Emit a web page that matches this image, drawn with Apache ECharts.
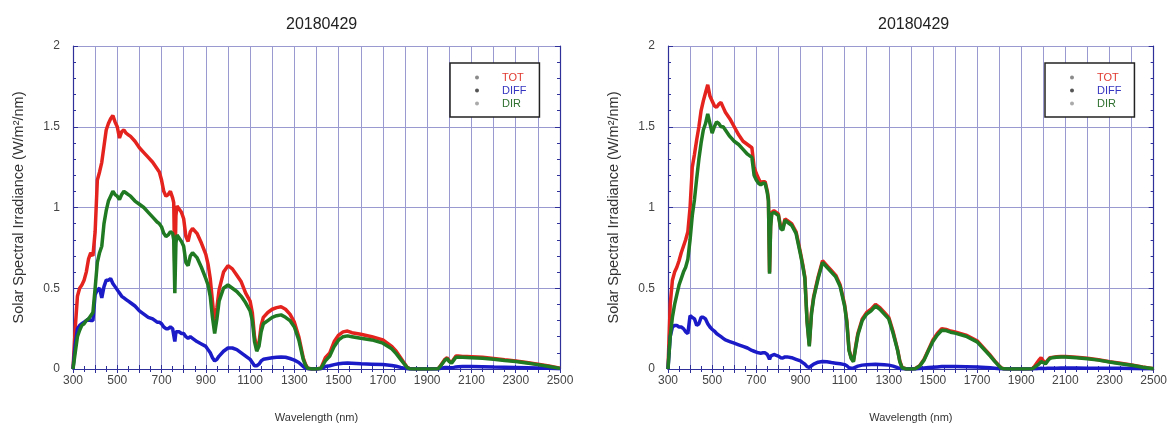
<!DOCTYPE html>
<html>
<head>
<meta charset="utf-8">
<script src="https://cdn.jsdelivr.net/npm/echarts@6/dist/echarts.min.js"></script>
<style>
html,body{margin:0;padding:0;background:#fff;}
#c{width:1170px;height:428px;}
</style>
</head>
<body>
<div id="c"></div>
<script>
// ---- data ----
const titleText = '20180429';
const xTitle = 'Wavelength (nm)';
const yTitle = 'Solar Spectral Irradiance (W/m\u00B2/nm)';
const seriesNames = ['TOT', 'DIFF', 'DIR'];
const yTicks = [0, 0.5, 1, 1.5, 2];

const wavelength = [
  300,310,320,330,340,350,360,370,380,390,
  400,410,420,430,440,450,460,470,480,490,
  500,510,520,530,540,550,560,
  580,600,620,640,660,680,690,700,710,720,730,740,750,755,760,765,770,780,790,800,
  810,820,830,840,860,880,900,910,920,930,940,950,960,980,
  1000,1020,1040,1060,1080,1100,1110,1120,1130,1140,1150,1160,1180,
  1200,1220,1240,1260,1280,1300,1320,1340,1350,1360,1380,
  1400,1420,1440,1460,1480,1500,1520,1540,1560,1580,1600,
  1650,1700,1740,1760,1780,1800,1810,1820,1850,1900,1950,
  1960,1970,1980,1990,2000,2010,2020,2030,2040,2060,2080,
  2100,2150,2200,2250,2300,2350,2400,2450,2500
];

// left panel
const totLeft = [
  0,0.25,0.45,0.5,0.52,0.55,0.6,0.68,0.72,0.7,
  0.85,1.17,1.22,1.28,1.38,1.48,1.52,1.55,1.57,1.53,
  1.5,1.43,1.47,1.48,1.46,1.45,1.44,
  1.41,1.37,1.34,1.31,1.28,1.24,1.22,1.17,1.1,1.07,1.08,1.1,1.06,1.03,0.62,0.95,1.01,0.99,0.97,0.93,
  0.82,0.79,0.85,0.87,0.84,0.78,0.71,0.65,0.56,0.42,0.28,0.38,0.49,0.6,
  0.64,0.62,0.58,0.54,0.47,0.42,0.35,0.2,0.13,0.16,0.27,0.32,0.35,
  0.37,0.38,0.385,0.37,0.34,0.29,0.2,0.07,0.03,0.005,0,
  0,0.005,0.07,0.1,0.17,0.21,0.23,0.235,0.225,0.22,0.215,
  0.2,0.18,0.14,0.11,0.07,0.03,0.01,0.003,0,0,0.003,
  0.02,0.04,0.06,0.07,0.05,0.04,0.06,0.08,0.08,0.078,0.077,
  0.076,0.073,0.065,0.057,0.05,0.04,0.03,0.018,0.005
];
const dirLeft = [
  0,0.1,0.2,0.24,0.27,0.28,0.3,0.31,0.33,0.35,
  0.5,0.66,0.72,0.76,0.9,0.98,1.04,1.07,1.1,1.08,
  1.07,1.05,1.08,1.1,1.09,1.08,1.07,
  1.04,1.02,1.0,0.97,0.94,0.91,0.9,0.88,0.84,0.82,0.83,0.85,0.84,0.8,0.47,0.78,0.83,0.81,0.79,0.76,
  0.66,0.64,0.7,0.72,0.69,0.63,0.56,0.52,0.45,0.32,0.22,0.31,0.42,0.5,
  0.52,0.5,0.48,0.45,0.41,0.36,0.3,0.17,0.11,0.14,0.23,0.28,0.3,
  0.32,0.33,0.335,0.32,0.3,0.26,0.18,0.06,0.025,0.004,0,
  0,0.004,0.05,0.08,0.14,0.18,0.2,0.205,0.2,0.195,0.19,
  0.18,0.16,0.125,0.095,0.06,0.025,0.008,0.002,0,0,0.002,
  0.018,0.036,0.054,0.064,0.046,0.036,0.055,0.073,0.073,0.072,0.071,
  0.07,0.067,0.06,0.052,0.046,0.037,0.027,0.016,0.004
];
const difLeft = [
  0,0.15,0.25,0.27,0.28,0.29,0.3,0.31,0.3,0.3,
  0.46,0.49,0.5,0.44,0.51,0.55,0.55,0.56,0.53,0.51,
  0.49,0.47,0.45,0.44,0.43,0.42,0.41,
  0.39,0.36,0.34,0.32,0.31,0.29,0.29,0.28,0.26,0.25,0.25,0.26,0.25,0.24,0.17,0.23,0.24,0.23,0.22,0.22,
  0.2,0.19,0.2,0.19,0.17,0.155,0.14,0.12,0.1,0.07,0.05,0.06,0.08,0.11,
  0.13,0.13,0.12,0.1,0.08,0.06,0.04,0.02,0.02,0.03,0.05,0.06,0.065,
  0.07,0.073,0.074,0.073,0.065,0.055,0.04,0.015,0.006,0.002,0,
  0,0.002,0.015,0.02,0.027,0.032,0.036,0.037,0.036,0.034,0.032,
  0.03,0.028,0.022,0.017,0.01,0.004,0.002,0,0,0,0,
  0.004,0.007,0.009,0.01,0.008,0.008,0.01,0.013,0.014,0.015,0.015,
  0.015,0.014,0.012,0.011,0.01,0.008,0.006,0.004,0.001
];

// right panel
const totRight = [
  0,0.4,0.55,0.6,0.63,0.67,0.72,0.76,0.8,0.85,
  1.0,1.25,1.33,1.42,1.5,1.6,1.66,1.71,1.76,1.69,
  1.66,1.63,1.62,1.64,1.65,1.62,1.59,
  1.55,1.5,1.45,1.41,1.39,1.37,1.25,1.21,1.18,1.15,1.16,1.16,1.1,1.05,0.6,0.9,0.97,0.98,0.97,0.96,
  0.88,0.87,0.93,0.92,0.9,0.85,0.72,0.65,0.57,0.3,0.15,0.35,0.45,0.57,
  0.67,0.64,0.61,0.58,0.52,0.4,0.3,0.12,0.07,0.05,0.14,0.22,0.31,
  0.35,0.37,0.4,0.38,0.35,0.32,0.23,0.12,0.05,0.01,0,
  0,0.003,0.02,0.06,0.12,0.18,0.22,0.25,0.245,0.235,0.23,
  0.21,0.175,0.115,0.085,0.05,0.02,0.006,0.002,0,0,0.002,
  0.015,0.035,0.055,0.07,0.05,0.035,0.055,0.07,0.072,0.076,0.078,
  0.078,0.073,0.066,0.057,0.045,0.035,0.025,0.012,0.002
];
const dirRight = [
  0,0.2,0.32,0.4,0.46,0.52,0.56,0.6,0.63,0.68,
  0.8,0.95,1.05,1.18,1.3,1.4,1.48,1.52,1.58,1.52,
  1.46,1.5,1.53,1.52,1.5,1.5,1.48,
  1.44,1.41,1.39,1.36,1.33,1.31,1.2,1.17,1.15,1.14,1.15,1.15,1.09,1.04,0.59,0.88,0.96,0.97,0.96,0.95,
  0.87,0.86,0.92,0.91,0.89,0.84,0.71,0.64,0.56,0.29,0.14,0.34,0.44,0.56,
  0.66,0.63,0.6,0.57,0.51,0.39,0.29,0.115,0.065,0.045,0.13,0.21,0.3,
  0.34,0.36,0.39,0.37,0.34,0.31,0.22,0.115,0.045,0.008,0,
  0,0.002,0.018,0.055,0.115,0.17,0.21,0.24,0.238,0.228,0.222,
  0.203,0.168,0.11,0.08,0.047,0.018,0.005,0.001,0,0,0.001,
  0.01,0.02,0.03,0.045,0.04,0.032,0.05,0.066,0.069,0.073,0.075,
  0.075,0.07,0.064,0.055,0.043,0.033,0.023,0.011,0.002
];
const difRight = [
  0,0.2,0.26,0.27,0.27,0.26,0.26,0.25,0.23,0.22,
  0.33,0.32,0.31,0.27,0.28,0.32,0.32,0.31,0.28,0.26,
  0.245,0.235,0.22,0.21,0.2,0.19,0.18,
  0.17,0.16,0.15,0.14,0.13,0.115,0.11,0.105,0.1,0.098,0.1,0.1,0.09,0.085,0.06,0.08,0.09,0.09,0.085,0.08,
  0.07,0.068,0.075,0.075,0.07,0.06,0.05,0.04,0.03,0.015,0.01,0.02,0.03,0.042,
  0.047,0.045,0.04,0.036,0.032,0.027,0.02,0.008,0.005,0.006,0.012,0.018,0.024,
  0.027,0.028,0.029,0.028,0.027,0.024,0.018,0.008,0.004,0.001,0,
  0,0,0.003,0.006,0.009,0.011,0.013,0.015,0.015,0.015,0.015,
  0.014,0.012,0.009,0.007,0.005,0.002,0.001,0,0,0,0,
  0.001,0.002,0.003,0.004,0.003,0.003,0.004,0.005,0.005,0.005,0.006,
  0.006,0.006,0.005,0.005,0.004,0.004,0.003,0.002,0.001
];

// ---- styles ----
const FONT = 'Liberation Sans, Arial, sans-serif';
const COLORS = { TOT: '#e4231e', DIFF: '#1b1bc8', DIR: '#1f7a22' };
const TEXTCOL = { TOT: '#e03a30', DIFF: '#3434c0', DIR: '#2f7030' };
const DOTCOL = { TOT: '#8a8a8a', DIFF: '#555555', DIR: '#aaaaaa' };
const frameColor = '#30309a';
const gridColor = '#9a9ad0';

const panels = [
  { left: 73, width: 487, titleLeft: 281, legendLeft: 450, tot: totLeft, dif: difLeft, dir: dirLeft },
  { left: 668, width: 491, titleLeft: 873, legendLeft: 1045, tot: totRight, dif: difRight, dir: dirRight }
];

const pairs = arr => wavelength.map((w, i) => [w, arr[i]]);

const option = {
  animation: false,
  backgroundColor: '#fff',
  textStyle: { fontFamily: FONT },
  title: [], legend: [], grid: [], xAxis: [], yAxis: [], series: []
};

panels.forEach((p, k) => {
  option.grid.push({ left: p.left, top: 46, width: p.width, height: 326 });
  option.title.push({
    text: titleText, left: p.titleLeft, top: 12,
    textStyle: { fontFamily: FONT, fontSize: 16, fontWeight: 'normal', color: '#222' }
  });
  option.legend.push({
    orient: 'vertical', left: p.legendLeft, top: 63,
    padding: [8, 13, 7, 25], itemGap: 0, itemWidth: 4, itemHeight: 4, icon: 'circle',
    borderColor: '#222', borderWidth: 1.5, backgroundColor: '#fff',
    selectedMode: false,
    textStyle: { fontFamily: FONT, fontSize: 11, lineHeight: 13, padding: [0, 0, 0, 18] },
    data: seriesNames.map(n => ({
      name: n, itemStyle: { color: DOTCOL[n] }, textStyle: { color: TEXTCOL[n] }
    }))
  });
  const xBase = {
    type: 'value', gridIndex: k, min: 300, max: 2500, interval: 100,
    axisLine: { show: true, lineStyle: { color: frameColor, width: 1.2 } },
    axisTick: { show: true, inside: true, length: 4, lineStyle: { color: frameColor } },
    minorTick: { show: true, splitNumber: 2, length: 3, lineStyle: { color: frameColor } }
  };
  option.xAxis.push(Object.assign({}, xBase, {
    position: 'bottom',
    name: xTitle, nameLocation: 'middle', nameGap: 43,
    nameTextStyle: { fontFamily: FONT, fontSize: 11, color: '#333' },
    axisLabel: {
      margin: 6, fontFamily: FONT, fontSize: 12, color: '#444',
      formatter: v => ((v - 300) % 200 === 0 ? String(v) : '')
    },
    splitLine: { show: true, lineStyle: { color: gridColor, width: 1 } }
  }));
  option.xAxis.push(Object.assign({}, xBase, {
    position: 'top', axisLabel: { show: false }, splitLine: { show: false }
  }));
  const yBase = {
    type: 'value', gridIndex: k, min: 0, max: 2, interval: 0.5,
    axisLine: { show: true, lineStyle: { color: frameColor, width: 1.2 } },
    axisTick: { show: true, inside: true, length: 5, lineStyle: { color: frameColor } },
    minorTick: { show: true, splitNumber: 5, length: 3, lineStyle: { color: frameColor } }
  };
  option.yAxis.push(Object.assign({}, yBase, {
    position: 'left',
    name: yTitle, nameLocation: 'middle', nameGap: 47,
    nameTextStyle: { fontFamily: FONT, fontSize: 14.5, color: '#333' },
    axisLabel: {
      margin: 13, fontFamily: FONT, fontSize: 12, color: '#444',
      formatter: v => (yTicks.indexOf(v) >= 0 ? String(v) : '')
    },
    splitLine: { show: true, lineStyle: { color: gridColor, width: 1 } }
  }));
  option.yAxis.push(Object.assign({}, yBase, {
    position: 'right', axisLabel: { show: false }, splitLine: { show: false }
  }));
  const mk = (name, arr) => ({
    name, type: 'line', xAxisIndex: 2 * k, yAxisIndex: 2 * k,
    data: pairs(arr), showSymbol: false, symbol: 'none',
    lineStyle: { color: COLORS[name], width: 3.5 }, itemStyle: { color: COLORS[name] },
    clip: true
  });
  option.series.push(mk('TOT', p.tot), mk('DIFF', p.dif), mk('DIR', p.dir));
});

const chart = echarts.init(document.getElementById('c'), null, { renderer: 'canvas' });
chart.setOption(option);
</script>
</body>
</html>
